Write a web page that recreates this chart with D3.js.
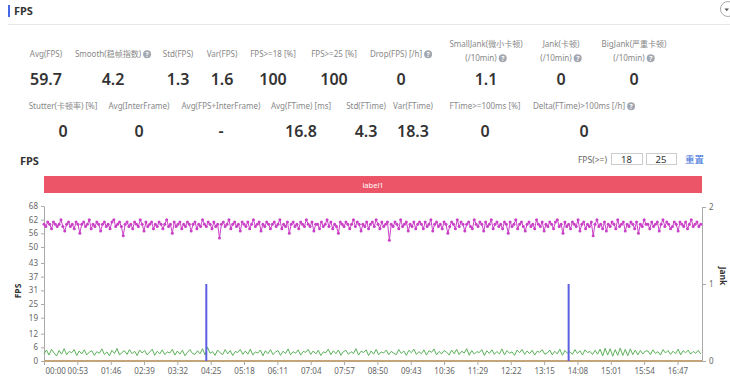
<!DOCTYPE html>
<html>
<head>
<meta charset="utf-8">
<script src="https://cdn.jsdelivr.net/npm/d3@7"></script>
<style>
  body { margin: 0; background: #fff; }
  svg { display: block; font-family: "Noto Sans", "Noto Sans CJK SC", sans-serif; }
</style>
</head>
<body>
<svg id="chart"></svg>
<script>
// ---- summary stats ----
const statLabels1 = [["Avg(FPS)"], ["Smooth(稳帧指数)"], ["Std(FPS)"], ["Var(FPS)"], ["FPS>=18 [%]"], ["FPS>=25 [%]"],
  ["Drop(FPS) [/h]"], ["SmallJank(微小卡顿)", "(/10min)"], ["Jank(卡顿)", "(/10min) "], ["BigJank(严重卡顿)", "(/10min)"]];
const statHelp1 = [false, true, false, false, false, false, true, true, true, true];
const statValues1 = ["59.7", "4.2", "1.3", "1.6", "100", "100", "0", "1.1", "0", "0"];

const statLabels2 = [["Stutter(卡顿率) [%]"], ["Avg(InterFrame)"], ["Avg(FPS+InterFrame)"], ["Avg(FTime) [ms]"],
  ["Std(FTime)"], ["Var(FTime)"], ["FTime>=100ms [%]"], ["Delta(FTime)>100ms [/h]"]];
const statHelp2 = [false, false, false, false, false, false, false, true];
const statValues2 = ["0", "0", "-", "16.8", "4.3", "18.3", "0", "0"];

// ---- chart data ----
const duration = 1046;      // seconds
const fpsStep = 3;          // seconds between fps samples
const interStep = 4;        // seconds between inter-frame samples
const fpsTicks = [0, 6, 12, 19, 25, 31, 37, 43, 50, 56, 62, 68];
const jankTicks = [0, 1, 2];
const xTickLabels = ["00:00", "00:53", "01:46", "02:39", "03:32", "04:25", "05:18", "06:11", "07:04", "07:57",
  "08:50", "09:43", "10:36", "11:29", "12:22", "13:15", "14:08", "15:01", "15:54", "16:47"];

const fps = [
  60,59,61,60,58,61,60,59,60,62,59,57,60,61,59,60,58,61,60,56,
  60,61,59,60,62,58,60,59,61,60,57,60,61,59,60,58,61,62,59,60,
  61,59,55,60,61,59,60,58,61,60,59,62,60,57,61,59,60,61,58,60,
  59,61,60,58,60,62,59,60,56,61,59,60,61,58,60,59,61,60,57,60,
  61,58,60,59,62,60,59,61,60,58,61,59,60,54,60,61,59,60,62,58,
  60,61,59,60,57,61,60,59,61,58,60,62,59,60,61,57,60,59,61,60,
  58,60,61,59,60,62,58,60,59,61,56,60,61,59,60,58,61,60,59,62,
  60,59,61,57,60,60,58,61,59,60,62,59,61,58,60,59,56,61,60,59,
  61,60,58,60,62,59,61,60,57,60,59,61,58,60,61,59,62,60,58,61,
  59,60,61,53,60,59,61,60,58,62,59,60,61,57,60,59,61,58,60,61,
  60,58,61,59,60,62,57,60,61,59,60,58,61,60,56,59,61,60,58,62,
  59,61,60,57,60,61,59,58,62,60,59,61,60,57,61,59,60,62,58,60,
  61,59,60,58,61,60,56,61,59,60,62,58,60,61,59,57,60,61,59,60,
  58,62,60,59,61,57,60,59,61,60,58,61,62,59,60,56,61,59,60,58,
  61,60,59,62,57,60,61,58,60,59,61,55,60,62,59,60,58,61,57,60,
  59,61,60,58,62,59,60,61,57,60,59,61,60,58,61,56,60,59,62,60,
  60,58,61,59,60,61,57,60,62,59,61,60,58,59,61,60,57,61,60,59,
  61,58,60,62,59,60,61,59,60
];

const interFrame = [
  3.2,4.8,2.6,5.1,3.5,2.2,4.6,3.0,5.4,2.8,4.2,3.6,5.0,2.4,4.4,3.1,4.9,2.7,3.9,4.5,
  2.5,4.1,3.4,5.3,2.9,4.0,2.3,4.7,3.3,5.5,2.6,3.8,4.5,2.9,5.0,3.2,4.3,2.4,4.8,3.5,
  4.6,2.7,3.9,5.2,2.5,4.3,3.1,4.9,2.8,4.0,3.5,5.1,2.6,4.4,3.0,4.7,2.3,3.8,5.0,3.3,
  2.9,4.5,3.2,5.4,2.7,6.0,3.4,4.1,2.5,4.8,3.6,2.8,5.0,3.1,4.6,2.4,4.2,3.7,5.1,2.9,
  4.4,3.0,5.2,2.6,4.0,3.5,4.8,2.3,4.5,3.2,5.0,2.8,3.9,4.6,2.5,4.3,3.3,5.3,2.7,4.1,
  3.4,4.9,2.6,4.2,3.8,5.1,2.9,4.4,3.1,4.7,2.4,4.0,3.6,5.2,2.8,4.5,3.2,4.8,2.5,4.1,
  4.7,2.9,4.1,3.3,5.4,2.6,4.3,3.7,4.9,2.4,4.4,3.0,5.1,2.7,4.0,3.5,4.8,2.8,4.2,3.4,
  2.8,5.0,3.3,4.4,2.5,4.7,3.6,5.2,2.9,4.1,3.2,4.9,2.6,4.5,3.8,5.3,2.7,4.2,3.1,4.6,
  3.9,2.6,4.8,3.2,5.1,2.8,4.3,3.5,5.4,2.5,4.6,3.0,4.1,3.7,5.0,2.4,4.5,3.3,4.9,2.9,
  4.2,3.1,5.3,2.7,4.6,3.4,4.0,2.5,4.8,3.6,5.1,2.9,4.4,3.2,4.7,2.6,4.3,3.8,5.0,3.0,
  3.5,4.8,2.7,4.3,3.1,5.2,2.5,4.6,3.4,4.1,2.9,5.0,3.3,4.5,2.6,4.9,3.7,4.2,2.8,4.7,
  3.0,5.2,2.2,5.6,2.6,5.4,2.1,5.0,2.5,5.7,2.4,5.1,2.3,5.3,2.8,4.8,2.7,4.6,3.1,4.4,
  4.4,2.8,4.9,3.3,4.1,2.6,5.0,3.5,4.6,2.9,4.3,3.2,5.2,2.7,4.5,3.6,4.8,3.0,4.2,3.4,
  4.7,3.1
];

const jankTimes = [258, 834];
const jankValues = [1, 1];
const stutter = [[0, 0], [duration, 0]];

// ---- drawing ----
const svg = d3.select('#chart').attr('width', 730).attr('height', 377);

// page header
svg.append('rect').attr('x', 8).attr('y', 5).attr('width', 2).attr('height', 12).attr('fill', '#4468e8');
svg.append('text').attr('x', 14).attr('y', 15).attr('font-size', 11).attr('font-weight', 700)
  .attr('fill', '#333').text('FPS');
svg.append('line').attr('x1', 8).attr('x2', 730).attr('y1', 24.5).attr('y2', 24.5).attr('stroke', '#e6e6e6');
svg.append('circle').attr('cx', 728).attr('cy', 9).attr('r', 7.5).attr('fill', '#fff').attr('stroke', '#aaa');
svg.append('path').attr('d', 'M724.5,8.5 L729,8.5 L726.7,11.2Z').attr('fill', '#555');

function helpIcon(g, cx, cy) {
  g.append('circle').attr('cx', cx).attr('cy', cy).attr('r', 4).attr('fill', '#a3a8b0');
  g.append('text').attr('x', cx).attr('y', cy + 2.3).attr('text-anchor', 'middle')
    .attr('font-size', 6.5).attr('font-weight', 700).attr('fill', '#fff').text('?');
}

function drawStats(labels, helps, values, xs, labelY, valueY) {
  labels.forEach((lines, i) => {
    const g = svg.append('g');
    const lineYs = lines.length === 2 ? [labelY - 10, labelY + 4] : [labelY];
    lines.forEach((txt, j) => {
      const t = g.append('text').attr('y', lineYs[j]).attr('font-size', 8).attr('fill', '#888').text(txt);
      const withIcon = j === lines.length - 1 && helps[i];
      const len = t.node().getComputedTextLength();
      const x0 = xs[i] - (len + (withIcon ? 10 : 0)) / 2;
      t.attr('x', x0);
      if (withIcon) helpIcon(g, x0 + len + 6, lineYs[j] - 2.8);
    });
    g.append('text').attr('x', xs[i]).attr('y', valueY).attr('text-anchor', 'middle')
      .attr('font-size', 16).attr('font-weight', 600).attr('fill', '#333').text(values[i]);
  });
}

drawStats(statLabels1, statHelp1, statValues1, [46, 113, 178, 222, 273, 334, 401, 486, 561, 634], 57, 85);
drawStats(statLabels2, statHelp2, statValues2, [63, 139, 221, 301, 366, 413, 485, 584], 109, 137);

// chart header
svg.append('text').attr('x', 20).attr('y', 165).attr('font-size', 11).attr('font-weight', 700)
  .attr('fill', '#333').text('FPS');
svg.append('text').attr('x', 607).attr('y', 162.5).attr('text-anchor', 'end').attr('font-size', 8.5)
  .attr('fill', '#666').text('FPS(>=)');
[[611, 31, '18'], [646, 30, '25']].forEach(([bx, bw, v]) => {
  svg.append('rect').attr('x', bx + 0.5).attr('y', 153.5).attr('width', bw).attr('height', 11)
    .attr('fill', '#fff').attr('stroke', '#ccc');
  svg.append('text').attr('x', bx + bw / 2).attr('y', 162.5).attr('text-anchor', 'middle')
    .attr('font-size', 9.5).attr('fill', '#333').text(v);
});
svg.append('text').attr('x', 685).attr('y', 163).attr('font-size', 9.5).attr('fill', '#3b6fd8').text('重置');

// scales
const x = d3.scaleLinear().domain([0, duration]).range([44, 702]);
const yL = d3.scaleLinear().domain([0, 68]).range([361, 206]);
const yR = d3.scaleLinear().domain([0, 2]).range([361, 207]);

// label band
svg.append('rect').attr('x', x(0)).attr('y', 176).attr('width', x(duration) - x(0)).attr('height', 17)
  .attr('fill', '#ec5467');
svg.append('text').attr('x', (x(0) + x(duration)) / 2).attr('y', 187.5).attr('text-anchor', 'middle')
  .attr('font-size', 7.5).attr('fill', '#fff').text('label1');

// axes
function styleAxis(g) {
  g.selectAll('path.domain').attr('stroke', '#aaa');
  g.selectAll('.tick line').attr('stroke', '#aaa');
  g.selectAll('.tick text').attr('fill', '#666').attr('font-size', 8)
    .attr('font-family', '"Noto Sans", sans-serif');
}

svg.append('g').attr('transform', 'translate(44,0)')
  .call(d3.axisLeft(yL).tickValues(fpsTicks).tickSize(3).tickSizeOuter(0).tickPadding(3).tickFormat(d3.format('d')))
  .call(styleAxis);
svg.append('g').attr('transform', 'translate(702,0)')
  .call(d3.axisRight(yR).tickValues(jankTicks).tickSize(4).tickSizeOuter(0).tickPadding(3).tickFormat(d3.format('d')))
  .call(styleAxis);

const toSec = s => { const [m, sec] = s.split(':').map(Number); return m * 60 + sec; };
const bottomG = svg.append('g').attr('transform', 'translate(0,361)')
  .call(d3.axisBottom(x).tickValues(xTickLabels.map(toSec)).tickSize(4).tickSizeOuter(0).tickPadding(3)
    .tickFormat((d, i) => xTickLabels[i]))
  .call(styleAxis);
bottomG.select('path.domain').remove();
bottomG.select('.tick text').attr('text-anchor', 'start').attr('x', 1);

svg.append('text').attr('transform', 'translate(21,291) rotate(-90)').attr('text-anchor', 'middle')
  .attr('font-size', 8.5).attr('font-weight', 700).attr('fill', '#333').text('FPS');
svg.append('text').attr('transform', 'translate(720,276) rotate(90)').attr('text-anchor', 'middle')
  .attr('font-size', 8.5).attr('font-weight', 700).attr('fill', '#333').text('Jank');

// series
svg.append('path').datum(interFrame)
  .attr('d', d3.line().x((d, i) => x(i * interStep)).y(d => yL(d)))
  .attr('fill', 'none').attr('stroke', '#5cb25c').attr('stroke-width', 1);

const fpsX = (d, i) => x(i * fpsStep);
svg.append('path').datum(fps)
  .attr('d', d3.line().x(fpsX).y(d => yL(d)))
  .attr('fill', 'none').attr('stroke', '#c940c6').attr('stroke-width', 1);
svg.append('g').selectAll('circle').data(fps).join('circle')
  .attr('cx', fpsX).attr('cy', d => yL(d)).attr('r', 1.5).attr('fill', '#c940c6');

svg.append('path').datum(stutter)
  .attr('d', d3.line().x(d => x(d[0])).y(d => yR(d[1])))
  .attr('fill', 'none').attr('stroke', '#c4a57a').attr('stroke-width', 2);

svg.append('g').selectAll('line').data(jankTimes).join('line')
  .attr('x1', d => x(d)).attr('x2', d => x(d))
  .attr('y1', yR(0)).attr('y2', (d, i) => yR(jankValues[i]))
  .attr('stroke', '#5d5fe3').attr('stroke-width', 2);
</script>
</body>
</html>
